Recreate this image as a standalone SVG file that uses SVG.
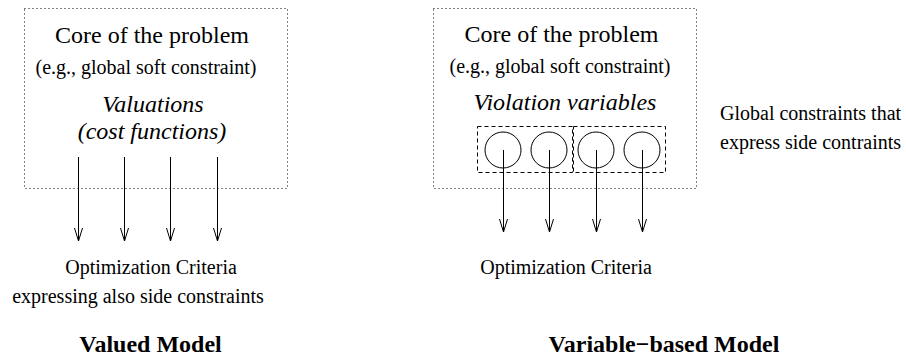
<svg xmlns="http://www.w3.org/2000/svg" width="906" height="359" viewBox="0 0 906 359">
<style>
.big{font-size:24px}
.sm{font-size:20px}
.it{font-style:italic}
.bd{font-weight:bold;font-size:24px}
.dot{fill:none;stroke:#000;stroke-width:1;stroke-dasharray:1 3}
.dash{fill:none;stroke:#000;stroke-width:1;stroke-dasharray:4 3}
.circ{fill:none;stroke:#000;stroke-width:1}
.arr{fill:none;stroke:#000;stroke-width:1}
</style>
<defs>
<marker id="ah" markerWidth="16" markerHeight="10" refX="14" refY="5" orient="auto" markerUnits="userSpaceOnUse" viewBox="0 0 16 10">
<path d="M1,1 L14,5 L1,9" fill="none" stroke="#000" stroke-width="1"/>
</marker>
</defs>
<g font-family="Liberation Serif, Times New Roman, serif" fill="#000">
<g id="valued-core">
<rect class="dot" x="24.5" y="8.5" width="263" height="180"/>
<text class="big" x="152" y="43" text-anchor="middle">Core of the problem</text>
<text class="sm" x="146" y="74" text-anchor="middle">(e.g., global soft constraint)</text>
<text class="big it" x="153" y="112" text-anchor="middle">Valuations</text>
<text class="big it" x="152" y="139" text-anchor="middle">(cost functions)</text>
</g>
<g id="valued-criteria">
<text class="sm" x="151" y="274" text-anchor="middle">Optimization Criteria</text>
<text class="sm" x="138" y="303" text-anchor="middle">expressing also side constraints</text>
</g>
<g id="valued-title">
<text class="bd" x="150.5" y="352" text-anchor="middle">Valued Model</text>
</g>
<g id="variable-core">
<rect class="dot" x="433.5" y="8.5" width="263" height="180"/>
<text class="big" x="561.5" y="42" text-anchor="middle">Core of the problem</text>
<text class="sm" x="560" y="73" text-anchor="middle">(e.g., global soft constraint)</text>
<text class="big it" x="565" y="110" text-anchor="middle">Violation variables</text>
</g>
<g id="side-group-1">
<rect class="dash" x="477.5" y="126.5" width="95" height="46"/>
<circle class="circ" cx="503" cy="150" r="18"/>
<circle class="circ" cx="549" cy="150" r="18"/>
</g>
<g id="side-group-2">
<rect class="dash" x="573.5" y="126.5" width="92" height="46"/>
<circle class="circ" cx="596" cy="150" r="18"/>
<circle class="circ" cx="642" cy="150" r="18"/>
</g>
<g id="side-label">
<text class="sm" x="720" y="120">Global constraints that</text>
<text class="sm" x="720" y="149">express side contraints</text>
</g>
<g id="variable-criteria">
<text class="sm" x="566" y="274" text-anchor="middle">Optimization Criteria</text>
</g>
<g id="variable-title">
<text class="bd" x="664" y="352" text-anchor="middle">Variable−based Model</text>
</g>
</g>
<g id="connectors">
<line class="arr" x1="78.5" y1="157" x2="78.5" y2="241" marker-end="url(#ah)"/>
<line class="arr" x1="124.5" y1="157" x2="124.5" y2="241" marker-end="url(#ah)"/>
<line class="arr" x1="170.5" y1="157" x2="170.5" y2="241" marker-end="url(#ah)"/>
<line class="arr" x1="217.5" y1="157" x2="217.5" y2="241" marker-end="url(#ah)"/>
<line class="arr" x1="503.5" y1="150" x2="503.5" y2="232" marker-end="url(#ah)"/>
<line class="arr" x1="549.5" y1="150" x2="549.5" y2="232" marker-end="url(#ah)"/>
<line class="arr" x1="596.5" y1="150" x2="596.5" y2="232" marker-end="url(#ah)"/>
<line class="arr" x1="642.5" y1="150" x2="642.5" y2="232" marker-end="url(#ah)"/>
</g>
</svg>
